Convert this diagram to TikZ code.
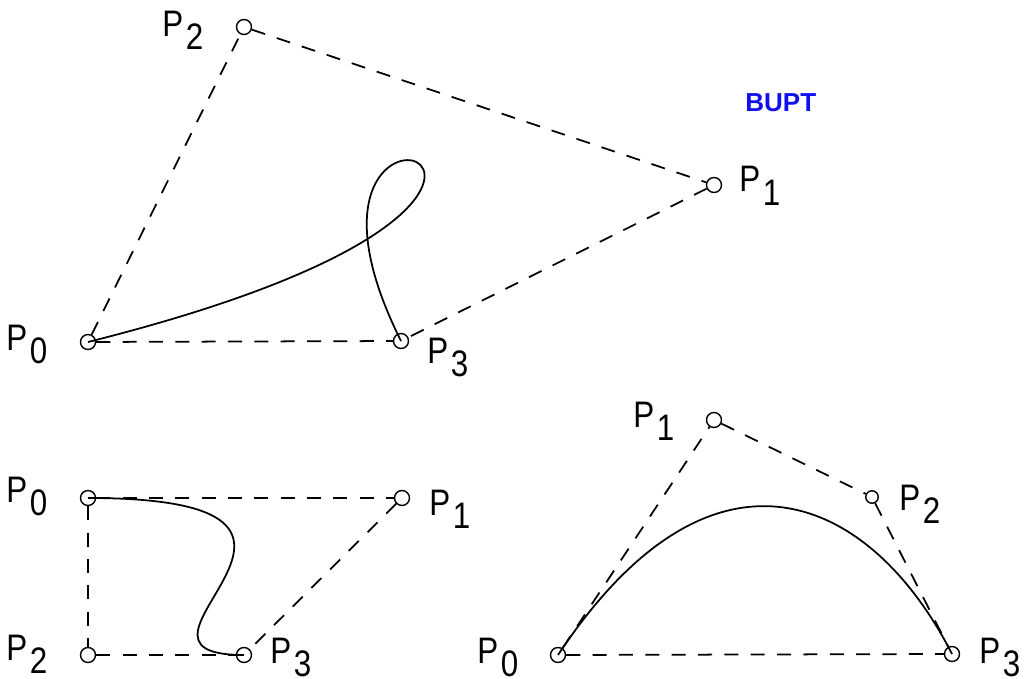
\documentclass[tikz,border=0pt]{standalone}
\usepackage{fontspec}
\setmainfont{Liberation Sans}
\newfontfamily\labfont[FakeStretch=0.85]{Liberation Sans}
\usepackage{xcolor}
\definecolor{buptblue}{HTML}{1010F0}
\newcommand{\Pidx}[1]{P\kern1.5pt\raisebox{-7.4pt}{#1}}

\begin{document}
\begin{tikzpicture}[
  x=0.02cm, y=-0.02cm,
  pt/.style={draw, circle, minimum size=0.3cm, inner sep=0pt, line width=0.8pt},
  ptsmall/.style={pt, minimum size=0.25cm},
  lab/.style={anchor=base west, inner sep=0pt, font=\labfont\fontsize{21}{25}\selectfont},
  ctrl/.style={dash pattern=on 8pt off 7pt, line width=1pt},
  bez/.style={line width=1pt}
]
  \useasboundingbox (0,0) rectangle (1031,679);

  % Oben: Schleife
  \node[pt] (lp0) at (88,342) {};
  \node[pt] (lp1) at (714,185) {};
  \node[pt] (lp2) at (244,27) {};
  \node[pt] (lp3) at (401,341) {};
  \node[lab] (lp0l) at (6,350) {\Pidx{0}};
  \node[lab] (lp1l) at (739,192) {\Pidx{1}};
  \node[lab] (lp2l) at (162,37) {\Pidx{2}};
  \node[lab] (lp3l) at (427,363) {\Pidx{3}};
  \draw[ctrl] (lp0) -- (lp2); \draw[ctrl] (lp2) -- (lp1);
  \draw[ctrl] (lp1) -- (lp3); \draw[ctrl] (lp0) -- (lp3);
  \draw[bez] (lp0.center) .. controls (lp1.center) and (lp2.center) .. (lp3.center);

  \node[anchor=base west, inner sep=0pt, font=\bfseries\fontsize{14.8}{17}\selectfont, text=buptblue] (bupt) at (745,112) {BUPT};

  % Unten links: S-Kurve
  \node[pt] (sc0) at (88,498) {};
  \node[pt] (sc1) at (402,498) {};
  \node[pt] (sc2) at (88,655) {};
  \node[pt] (sc3) at (244,655) {};
  \node[lab] (sc0l) at (6,502) {\Pidx{0}};
  \node[lab] (sc1l) at (429,515) {\Pidx{1}};
  \node[lab] (sc2l) at (6,660) {\Pidx{2}};
  \node[lab] (sc3l) at (270,663) {\Pidx{3}};
  \draw[ctrl] (sc0) -- (sc1); \draw[ctrl] (sc1) -- (sc3);
  \draw[ctrl] (sc0) -- (sc2); \draw[ctrl] (sc2) -- (sc3);
  \draw[bez] (sc0.center) .. controls (sc1.center) and (sc2.center) .. (sc3.center);

  % Unten rechts: Bogen
  \node[pt] (ar0) at (558,655) {};
  \node[pt] (ar1) at (714,420) {};
  \node[ptsmall] (ar2) at (872,497) {};
  \node[pt] (ar3) at (952,654) {};
  \node[lab] (ar0l) at (477,663) {\Pidx{0}};
  \node[lab] (ar1l) at (633,427) {\Pidx{1}};
  \node[lab] (ar2l) at (899,510) {\Pidx{2}};
  \node[lab] (ar3l) at (979,663) {\Pidx{3}};
  \draw[ctrl] (ar0) -- (ar1); \draw[ctrl] (ar1) -- (ar2);
  \draw[ctrl] (ar2) -- (ar3); \draw[ctrl] (ar0) -- (ar3);
  \draw[bez] (ar0.center) .. controls (ar1.center) and (ar2.center) .. (ar3.center);
\end{tikzpicture}
\end{document}
